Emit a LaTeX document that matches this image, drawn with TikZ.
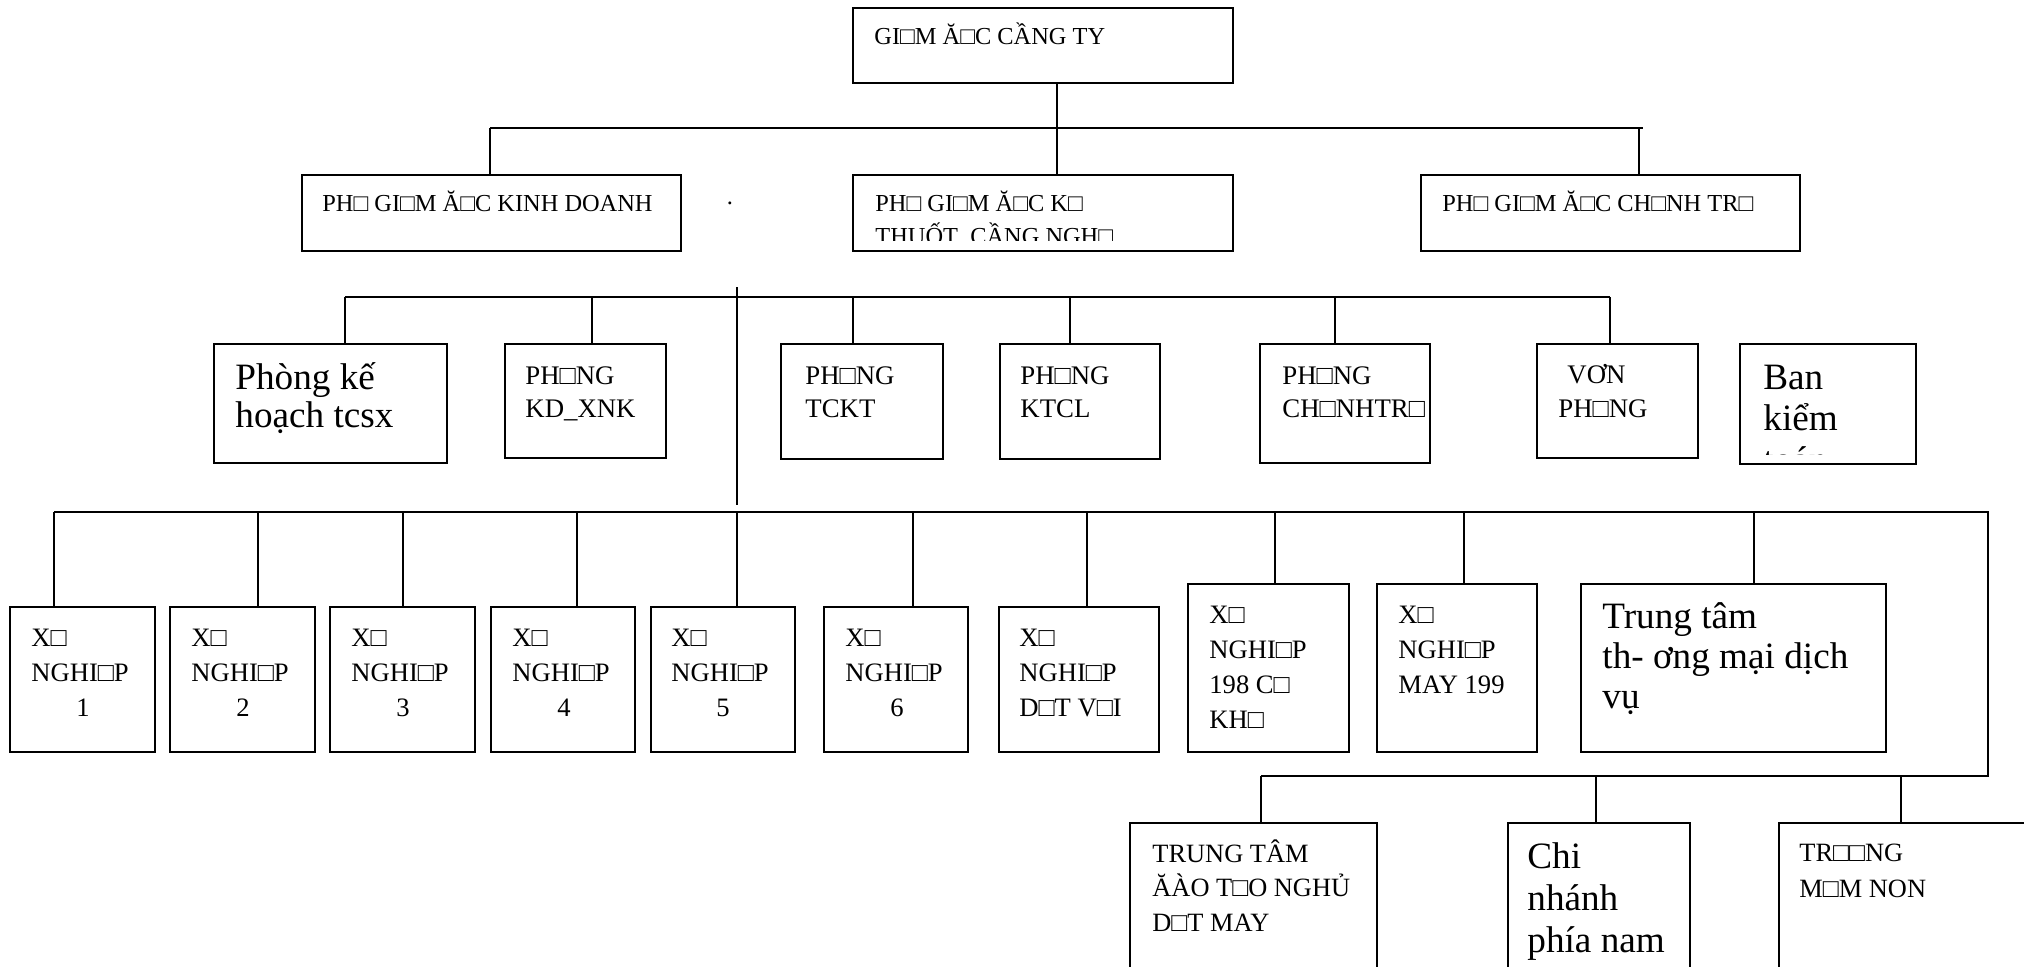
\documentclass[tikz,border=0pt]{standalone}
\usepackage{fontspec}
\setmainfont{Liberation Serif}
\usetikzlibrary{fit}
% one text line per node: name, x, first baseline, line step, style, lines
\newcommand\orglines[6]{%
  \foreach \ln [count=\i] in {#6}{%
    \node[#5, anchor=base west, inner sep=0pt] (#1-\i) at (#2,{#3+(\i-1)*#4}) {\ln};
  }%
}
\begin{document}
\begin{tikzpicture}[x=0.5pt,y=-0.5pt,
  orgbox/.style={draw, line width=1pt, inner sep=0pt, rectangle},
  link/.style={line width=0.7pt},
  bus/.style={line width=1pt},
  ftop/.style={font=\fontsize{12.2}{14.5}\selectfont},
  fdept/.style={font=\fontsize{13.4}{16.5}\selectfont},
  funit/.style={font=\fontsize{13.3}{17}\selectfont},
  fsub/.style={font=\fontsize{13.2}{17}\selectfont},
  fbig/.style={font=\fontsize{18.6}{20}\selectfont}
]
\useasboundingbox (0,0) rectangle (2024,966);
\clip (0,0) rectangle (2024,966);

% ---------- boxes ----------
\node[orgbox, fit={(853,8) (1233,83)}] (gd) {};
\node[orgbox, fit={(302,175) (681,251)}] (kd) {};
\node[orgbox, fit={(853,175) (1233,251)}] (kt) {};
\node[orgbox, fit={(1421,175) (1800,251)}] (ct) {};

\node[orgbox, fit={(214,344) (447,463)}] (p1) {};
\node[orgbox, fit={(505,344) (666,458)}] (p2) {};
\node[orgbox, fit={(781,344) (943,459)}] (p3) {};
\node[orgbox, fit={(1000,344) (1160,459)}] (p4) {};
\node[orgbox, fit={(1260,344) (1430,463)}] (p5) {};
\node[orgbox, fit={(1537,344) (1698,458)}] (p6) {};
\node[orgbox, fit={(1740,344) (1916,464)}] (p7) {};

\node[orgbox, fit={(10,607) (155,752)}] (x1) {};
\node[orgbox, fit={(170,607) (315,752)}] (x2) {};
\node[orgbox, fit={(330,607) (475,752)}] (x3) {};
\node[orgbox, fit={(491,607) (635,752)}] (x4) {};
\node[orgbox, fit={(651,607) (795,752)}] (x5) {};
\node[orgbox, fit={(824,607) (968,752)}] (x6) {};
\node[orgbox, fit={(999,607) (1159,752)}] (x7) {};
\node[orgbox, fit={(1188,584) (1349,752)}] (x8) {};
\node[orgbox, fit={(1377,584) (1537,752)}] (x9) {};
\node[orgbox, fit={(1581,584) (1886,752)}] (x10) {};

\node[orgbox, fit={(1130,823) (1377,1010)}] (y1) {};
\node[orgbox, fit={(1508,823) (1690,1010)}] (y2) {};
\node[orgbox, fit={(1779,823) (2070,1010)}] (y3) {};

% ---------- texts ----------
\orglines{gdT}{874}{44}{0}{ftop}{GI□M Ă□C CẦNG TY}
\orglines{kdT}{322}{211}{0}{ftop}{PH□ GI□M Ă□C KINH DOANH}
\begin{scope}
  \clip (853,175) rectangle (1233,240);
  \orglines{ktT}{875}{211}{33}{ftop}{PH□ GI□M Ă□C K□,THUỐT\ \ CẦNG NGH□}
\end{scope}
\orglines{ctT}{1442}{211}{0}{ftop}{PH□ GI□M Ă□C CH□NH TR□}
\node[ftop, inner sep=0pt] (dot) at (730,203) {.};

\orglines{p1T}{235}{389}{38}{fbig}{Phòng kế,hoạch tcsx}
\orglines{p2T}{525}{384}{33}{fdept}{PH□NG,KD\_XNK}
\orglines{p3T}{805}{384}{33}{fdept}{PH□NG,TCKT}
\orglines{p4T}{1020}{384}{33}{fdept}{PH□NG,KTCL}
\orglines{p5T}{1282}{384}{33}{fdept}{PH□NG,CH□NHTR□}
\orglines{p6T}{1558}{383}{34}{fdept}{\hspace*{4.5pt}VƠN,PH□NG}
\begin{scope}
  \clip (1740,344) rectangle (1916,454);
  \orglines{p7T}{1763}{389}{41}{fbig}{Ban,kiểm}
  \orglines{p7U}{1763}{472}{0}{fbig}{toán}
\end{scope}

\orglines{x1T}{31}{646}{35}{funit}{X□,NGHI□P,\hspace*{22.5pt}1}
\orglines{x2T}{191}{646}{35}{funit}{X□,NGHI□P,\hspace*{22.5pt}2}
\orglines{x3T}{351}{646}{35}{funit}{X□,NGHI□P,\hspace*{22.5pt}3}
\orglines{x4T}{512}{646}{35}{funit}{X□,NGHI□P,\hspace*{22.5pt}4}
\orglines{x5T}{671}{646}{35}{funit}{X□,NGHI□P,\hspace*{22.5pt}5}
\orglines{x6T}{845}{646}{35}{funit}{X□,NGHI□P,\hspace*{22.5pt}6}
\orglines{x7T}{1019}{646}{35}{funit}{X□,NGHI□P,D□T V□I}
\orglines{x8T}{1209}{623}{35}{funit}{X□,NGHI□P,198 C□,KH□}
\orglines{x9T}{1398}{623}{35}{funit}{X□,NGHI□P,MAY 199}
\orglines{x10T}{1602}{628}{40}{fbig}{Trung tâm,th- ơng mại dịch,vụ}

\orglines{y1T}{1152}{862}{34.5}{fsub}{TRUNG TÂM,ĂÀO T□O NGHỦ,D□T MAY}
\orglines{y2T}{1527}{868}{42}{fbig}{Chi,nhánh,phía nam}
\orglines{y3T}{1799}{861}{36}{fsub}{TR□□NG,M□M NON}

% ---------- connectors ----------
% director to deputies
\coordinate (j1) at (1057,128);
\coordinate (b1l) at (490,128);
\coordinate (b1r) at (1643,128);
\draw[link] (j1 |- gd.south) -- (j1 |- kt.north);
\draw[link] (b1l) -- (b1r);
\draw[link] (b1l) -- (b1l |- kd.north);
\coordinate (b1c) at (1639,128);
\draw[link] (b1c) -- (b1c |- ct.north);

% departments
\coordinate (s1) at (737,287);
\coordinate (s2) at (737,505);
\draw[link] (s1) -- (s2);
\coordinate (b2l) at (345,297);
\coordinate (b2r) at (1610,297);
\draw[link] (b2l) -- (b2r);
\foreach \xx/\nn in {345/p1,592/p2,853/p3,1070/p4,1335/p5,1610/p6}{
  \coordinate (d\nn) at (\xx,297);
  \draw[link] (d\nn) -- (d\nn |- \nn.north);
}

% production units
\coordinate (b3l) at (54,512);
\coordinate (b3r) at (1988,512);
\coordinate (b4r) at (1988,776);
\coordinate (b4l) at (1261,776);
\draw[bus] (b3l) -- (b3r) -- (b4r) -- (b4l);
\foreach \xx/\nn in {54/x1,258/x2,403/x3,577/x4,737/x5,913/x6,1087/x7,1275/x8,1464/x9,1754/x10}{
  \coordinate (d\nn) at (\xx,512);
  \draw[link] (d\nn) -- (d\nn |- \nn.north);
}
\foreach \xx/\nn in {1261/y1,1596/y2,1901/y3}{
  \coordinate (d\nn) at (\xx,776);
  \draw[link] (d\nn) -- (d\nn |- \nn.north);
}
\end{tikzpicture}
\end{document}
